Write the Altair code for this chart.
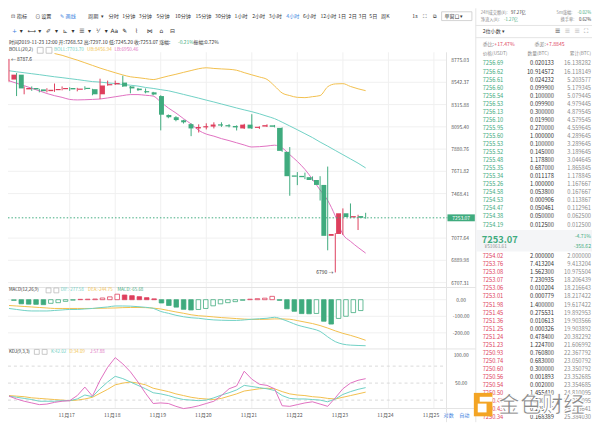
import altair as alt
import pandas as pd

# ---------------- data ----------------
times = pd.date_range("2019-11-15 16:00", periods=48, freq="4h").strftime("%Y-%m-%dT%H:%M:%S").tolist()

opens = [8571, 8622, 8470, 8484, 8470, 8452, 8462, 8472, 8484, 8466, 8486, 8472,
         8420, 8512, 8522, 8540, 8500, 8478, 8452, 8440, 8402, 8212, 8190, 8160,
         8122, 8080, 8090, 8098, 8120, 8112, 8104, 8080, 8117, 8085, 8098, 8110,
         8085, 7855, 7634, 7630, 7618, 7592, 7547, 7097, 7113, 7293, 7256, 7268.52]
highs = [8787.6, 8640, 8500, 8500, 8476, 8482, 8530, 8500, 8492, 8486, 8502, 8476,
         8580, 8560, 8560, 8611, 8505, 8485, 8480, 8445, 8410, 8218, 8200, 8165,
         8130, 8120, 8130, 8140, 8140, 8122, 8110, 8125, 8220, 8100, 8120, 8114,
         8090, 7900, 7665, 7660, 7625, 7627, 7716, 7120, 7336, 7380, 7280, 7297.10]
lows = [8550, 8402, 8420, 8455, 8440, 8440, 8445, 8460, 8455, 8450, 8465, 8410,
        8372, 8508, 8515, 8495, 8430, 8455, 8430, 8410, 8061, 8180, 8150, 8128,
        8005, 8040, 8070, 8080, 8095, 8090, 8060, 8075, 8075, 8075, 8094, 8090,
        7855, 7449, 7545, 7600, 7585, 7406, 6974, 6790, 7105, 7250, 7147, 7245.20]
closes = [8622, 8480, 8484, 8470, 8452, 8466, 8474, 8484, 8470, 8478, 8474, 8420,
          8510, 8524, 8536, 8500, 8480, 8462, 8440, 8418, 8215, 8190, 8162, 8140,
          8080, 8094, 8102, 8118, 8108, 8100, 8090, 8117, 8080, 8096, 8112, 8096,
          7864, 7627, 7622, 7618, 7592, 7547, 7097, 7113, 7293, 7260, 7268, 7253.07]

boll_mid = [8663, 8652, 8642, 8632, 8622, 8611, 8600, 8591, 8581, 8571, 8560, 8550,
            8545, 8537, 8530, 8520, 8513, 8504, 8490, 8480, 8467, 8456, 8438, 8419,
            8400, 8381, 8361, 8342, 8322, 8302, 8282, 8263, 8245, 8224, 8200, 8176,
            8141, 8104, 8067, 8029, 7991, 7948, 7909, 7868, 7828, 7788, 7748, 7703.70]
boll_up = [8928, 8918, 8905, 8894, 8881, 8863, 8845, 8826, 8800, 8775, 8747, 8719,
           8691, 8666, 8642, 8619, 8600, 8591, 8581, 8571, 8588, 8608, 8626, 8646,
           8665, 8684, 8694, 8687, 8682, 8678, 8668, 8643, 8620, 8598, 8573, 8505,
           8433, 8407, 8389, 8386, 8396, 8407, 8497, 8526, 8529, 8500, 8476, 8456.94]
boll_lo = [8559, 8533, 8508, 8481, 8455, 8428, 8406, 8389, 8368, 8363, 8365, 8368,
           8372, 8383, 8395, 8407, 8417, 8417, 8410, 8402, 8342, 8282, 8232, 8176,
           8123, 8061, 8025, 8005, 7981, 7962, 7941, 7920, 7901, 7904, 7910, 7918,
           7892, 7828, 7764, 7690, 7598, 7501, 7407, 7270, 7110, 7050, 6998, 6950.46]

macd_hist = [-5, -25, -27, -28, -30, -22, -18, -10, -3, 2, 3, 4,
             10, 17, 33, 28, 24, 18, 12, 5, -20, -35, -45, -58,
             -62, -59, -53, -37, -25, -18, -12, -4, 3, 6, 9, 20,
             -4, -55, -70, -84, -85, -83, -130, -147, -113, -100, -78, -65.68]
macd_dif = [-53, -59, -65, -68, -68, -68, -65, -62, -59, -59, -56, -53,
            -48, -44, -38, -38, -39, -42, -46, -52, -71, -82, -94, -103,
            -109, -112, -118, -122, -124, -125, -125, -122, -118, -115, -112, -106,
            -118, -135, -153, -165, -176, -191, -224, -253, -268, -274, -276, -277.58]
macd_dea = [-35, -38, -41, -44, -47, -50, -53, -53, -53, -53, -53, -53,
            -52, -51, -50, -48, -47, -47, -48, -51, -56, -65, -74, -82,
            -91, -97, -100, -104, -108, -111, -114, -117, -119, -119, -118, -116,
            -116, -118, -126, -135, -144, -156, -171, -188, -203, -215, -229, -244.75]

kdj_k = [27, 25, 23, 21, 18, 18, 18, 19, 19, 22, 29, 26, 40, 52, 62, 58, 52, 46, 40, 33,
         31, 28, 24, 21, 20, 19, 20, 24, 29, 33, 38, 46, 44, 42, 40, 37, 28, 23, 22, 22,
         21, 20, 17, 22, 30, 35, 39, 42.02]
kdj_d = [28, 27, 26, 24, 23, 22, 21, 20, 19, 20, 22, 25, 32, 39, 47, 50, 52, 50, 47, 41,
         38, 35, 31, 28, 25, 23, 22, 21, 23, 27, 31, 36, 38, 40, 41, 40, 35, 31, 29, 28,
         26, 25, 23, 22, 25, 28, 31, 34.09]
kdj_j = [27, 22, 18, 15, 12, 13, 16, 18, 19, 28, 43, 27, 55, 78, 95, 84, 70, 52, 32, 14,
         15, 14, 9, 5, 7, 10, 14, 18, 28, 40, 45, 71, 57, 48, 46, 40, 10, 9, 12, 15,
         17, 13, 9, 24, 40, 50, 55, 57.88]

price_ticks = [8775.03, 8542.37, 8315.88, 8095.40, 7880.76, 7671.82, 7468.41, 7077.64, 6889.98, 6707.31]
macd_ticks = [0, -100, -200]
macd_tick_labels = ["0.00", "-100.00", "-200.00"]
kdj_ticks = [100, 50]
kdj_tick_labels = ["100.00", "50.00"]
kdj_levels = [80, 50, 20]
day_dates = ["2019-11-%02dT00:00:00" % d for d in range(17, 26)]
day_labels = ["11月%d" % d for d in range(17, 26)]
last_price = 7253.07

ask_prices = ["7256.69", "7256.62", "7256.61", "7256.60", "7256.54", "7256.53", "7256.13",
              "7256.10", "7255.95", "7255.60", "7255.53", "7255.52", "7255.48", "7255.35",
              "7255.34", "7255.26", "7254.58", "7254.53", "7254.47", "7254.38", "7254.19"]
ask_amounts = ["0.020133", "10.914572", "0.024232", "0.099900", "0.100000", "0.099900", "0.300000",
               "0.019900", "0.270000", "1.000000", "0.100000", "0.145000", "1.178800", "0.687000",
               "0.011178", "1.000000", "0.053800", "0.000906", "0.050461", "0.050000", "0.012500"]
ask_totals = ["16.138282", "16.118149", "5.203577", "5.179345", "5.079445", "4.979445", "4.879545",
              "4.579545", "4.559645", "4.289645", "3.289645", "3.189645", "3.044645", "1.865845",
              "1.178845", "1.167667", "0.167667", "0.113867", "0.112961", "0.062500", "0.012500"]
bid_prices = ["7254.02", "7253.76", "7253.08", "7253.07", "7253.06", "7253.01", "7251.98",
              "7251.45", "7251.36", "7251.25", "7251.24", "7251.23", "7250.93", "7250.74",
              "7250.60", "7250.56", "7250.54", "7250.50", "7250.49", "7250.43", "7250.34"]
bid_amounts = ["2.000000", "7.413204", "1.562300", "7.230935", "0.010204", "0.000779", "1.400000",
               "0.275531", "0.010613", "0.000326", "0.478400", "1.224700", "0.760800", "0.683000",
               "0.300000", "0.001893", "0.002000", "1.455410", "0.200000", "0.205546", "0.168389"]
bid_totals = ["2.000000", "9.413204", "10.975504", "18.206439", "18.216643", "18.217422", "19.617422",
              "19.892953", "19.903566", "19.903892", "20.382292", "21.606992", "22.367792", "23.050792",
              "23.350792", "23.352685", "23.354685", "24.810095", "25.010095", "25.215641", "25.384030"]

# ---------------- layout helpers ----------------
# reference pixel -> chart pixel (the page adds an 8px margin)
def px(v): return round((v - 1.0) * 0.99, 2)
def py(v): return round((v - 2.5) * (415.0 / 419.5), 2)

GREEN = "#3fab7e"
RED = "#de3f5d"
TEAL = "#6fd0c4"
ORANGE = "#f2bf4c"
PINK = "#e070c0"
BLUE = "#3c7fe0"
GRID = "#f0f0f0"
SEP = "#e4e4e4"
TXT = "#333333"
SUB = "#8c8c8c"
FONT = "Noto Sans CJK SC"

xsc = alt.Scale(type="time",
                domain=[alt.DateTime(year=2019, month=11, date=15, hours=16),
                        alt.DateTime(year=2019, month=11, date=23, hours=12)],
                range=[px(2), px(367.2)], nice=False)
psc = alt.Scale(type="log", domain=[6707.31, 8775.03], range=[py(281), py(53)], nice=False)
msc = alt.Scale(domain=[-200, 0], range=[py(332.5), py(298.5)], nice=False, zero=False)
ksc = alt.Scale(domain=[0, 100], range=[py(413), py(355)], nice=False, zero=False)

def X():
    return alt.X("t:T", scale=xsc, axis=None)

def lab(text, x, y, color=TXT, size=5.2, align="left", weight="normal", font=FONT, **kw):
    return alt.Chart(pd.DataFrame({"s": [text]})).mark_text(
        align=align, baseline="middle", fontSize=size, font=font, fontWeight=weight,
        color=color, **kw).encode(x=alt.value(px(x)), y=alt.value(py(y)), text="s:N")

def hline(y, x1, x2, color=SEP, width=1, dash=None):
    kw = dict(color=color, strokeWidth=width)
    if dash:
        kw["strokeDash"] = dash
    return alt.Chart(pd.DataFrame({"a": [0]})).mark_rule(**kw).encode(
        x=alt.value(px(x1)), x2=alt.value(px(x2)), y=alt.value(py(y)))

def vline(x, y1, y2, color=SEP, width=1):
    return alt.Chart(pd.DataFrame({"a": [0]})).mark_rule(color=color, strokeWidth=width).encode(
        x=alt.value(px(x)), y=alt.value(py(y1)), y2=alt.value(py(y2)))

def box(x1, y1, x2, y2, fill, stroke=None):
    kw = dict(fill=fill)
    if stroke:
        kw.update(stroke=stroke, strokeWidth=0.8)
    return alt.Chart(pd.DataFrame({"a": [0]})).mark_rect(**kw).encode(
        x=alt.value(px(x1)), x2=alt.value(px(x2)), y=alt.value(py(y1)), y2=alt.value(py(y2)))

# ---------------- tables ----------------
cd = pd.DataFrame({"t": times, "o": opens, "h": highs, "l": lows, "c": closes,
                   "mid": boll_mid, "up": boll_up, "lo": boll_lo,
                   "hist": macd_hist, "dif": macd_dif, "dea": macd_dea,
                   "k": kdj_k, "d": kdj_d, "j": kdj_j})
cd["dir"] = ["up" if c >= o else "dn" for o, c in zip(opens, closes)]
cd["zero"] = 0
solid = [False] + [macd_hist[i] < macd_hist[i - 1] for i in range(1, len(macd_hist))]
cd["sign"] = ["pos" if v > 0 else "neg" for v in macd_hist]
cd["fk"] = [s + ("_f" if f else "_h") for s, f in zip(cd["sign"], solid)]

dir_color = alt.Scale(domain=["up", "dn"], range=[RED, GREEN])

layers = []

# grid lines
layers.append(alt.Chart(pd.DataFrame({"p": price_ticks})).mark_rule(color=GRID).encode(
    y=alt.Y("p:Q", scale=psc, axis=None), x=alt.value(0), x2=alt.value(px(450))))
layers.append(alt.Chart(pd.DataFrame({"t": day_dates})).mark_rule(color=GRID).encode(
    x=X(), y=alt.value(py(45)), y2=alt.value(py(410))))
layers.append(alt.Chart(pd.DataFrame({"m": macd_ticks})).mark_rule(color=GRID).encode(
    y=alt.Y("m:Q", scale=msc, axis=None), x=alt.value(0), x2=alt.value(px(450))))
layers.append(alt.Chart(pd.DataFrame({"v": kdj_levels})).mark_rule(color="#d9d9d9", strokeDash=[3, 3]).encode(
    y=alt.Y("v:Q", scale=ksc, axis=None), x=alt.value(0), x2=alt.value(px(450))))

# panel separators
layers += [hline(286, 0, 480), hline(349, 0, 480), hline(410, 0, 480),
           vline(450, 45, 424), vline(480, 0, 424), hline(17.5, 480, 600), hline(30, 480, 600)]

# Bollinger bands
layers.append(alt.Chart(cd).mark_line(color=TEAL, strokeWidth=1, interpolate="monotone").encode(
    x=X(), y=alt.Y("mid:Q", scale=psc, axis=None)))
layers.append(alt.Chart(cd).transform_filter("datum.up <= 8858").mark_line(
    color=ORANGE, strokeWidth=1, interpolate="monotone").encode(
    x=X(), y=alt.Y("up:Q", scale=psc, axis=None)))
layers.append(alt.Chart(cd).mark_line(color=PINK, strokeWidth=1, interpolate="monotone").encode(
    x=X(), y=alt.Y("lo:Q", scale=psc, axis=None)))

# candles
layers.append(alt.Chart(cd).mark_rule(strokeWidth=1).encode(
    x=X(), y=alt.Y("l:Q", scale=psc, axis=None), y2="h:Q",
    color=alt.Color("dir:N", scale=dir_color, legend=None)))
layers.append(alt.Chart(cd).mark_bar(size=5).encode(
    x=X(), y=alt.Y("o:Q", scale=psc, axis=None), y2="c:Q",
    color=alt.Color("dir:N", scale=dir_color, legend=None)))

# last price line and tag
lp = pd.DataFrame({"p": [last_price], "s": ["%.2f" % last_price]})
layers.append(alt.Chart(lp).mark_rule(color=GREEN, strokeDash=[1.5, 2]).encode(
    y=alt.Y("p:Q", scale=psc, axis=None), x=alt.value(0), x2=alt.value(px(451))))
layers.append(alt.Chart(lp).mark_rule(color=GREEN, strokeWidth=7, strokeCap="butt").encode(
    y=alt.Y("p:Q", scale=psc, axis=None), x=alt.value(px(451)), x2=alt.value(px(479))))
layers.append(alt.Chart(lp).mark_text(color="white", fontSize=5, font=FONT, align="center", baseline="middle").encode(
    y=alt.Y("p:Q", scale=psc, axis=None), x=alt.value(px(465)), text="s:N"))

# high / low annotations
i_hi = highs.index(max(highs))
i_lo = lows.index(min(lows))
ann_hi = pd.DataFrame({"t": [times[i_hi]], "p": [max(highs)], "s": ["← %g" % max(highs)]})
ann_lo = pd.DataFrame({"t": [times[i_lo]], "p": [min(lows)], "s": ["%g →" % min(lows)]})
layers.append(alt.Chart(ann_hi).mark_text(align="left", baseline="middle", dx=2, fontSize=5, font=FONT, color=TXT).encode(
    x=X(), y=alt.Y("p:Q", scale=psc, axis=None), text="s:N"))
layers.append(alt.Chart(ann_lo).mark_text(align="right", baseline="middle", dx=-2, fontSize=5, font=FONT, color=TXT).encode(
    x=X(), y=alt.Y("p:Q", scale=psc, axis=None), text="s:N"))

# MACD
fill_scale = alt.Scale(domain=["pos_f", "pos_h", "neg_f", "neg_h"], range=[RED, "#ffffff", GREEN, "#ffffff"])
stroke_scale = alt.Scale(domain=["pos", "neg"], range=[RED, GREEN])
layers.append(alt.Chart(cd).mark_bar(size=4.6, strokeWidth=0.8).encode(
    x=X(), y=alt.Y("hist:Q", scale=msc, axis=None), y2="zero:Q",
    fill=alt.Fill("fk:N", scale=fill_scale, legend=None),
    stroke=alt.Stroke("sign:N", scale=stroke_scale, legend=None)))
layers.append(alt.Chart(cd).mark_line(color=ORANGE, strokeWidth=1, interpolate="monotone").encode(
    x=X(), y=alt.Y("dea:Q", scale=msc, axis=None)))
layers.append(alt.Chart(cd).mark_line(color=TEAL, strokeWidth=1, interpolate="monotone").encode(
    x=X(), y=alt.Y("dif:Q", scale=msc, axis=None)))

# KDJ
for fld, col in [("d", ORANGE), ("k", TEAL), ("j", PINK)]:
    layers.append(alt.Chart(cd).mark_line(color=col, strokeWidth=1).encode(
        x=X(), y=alt.Y(fld + ":Q", scale=ksc, axis=None)))

# axis labels
layers.append(alt.Chart(pd.DataFrame({"p": price_ticks})).mark_text(
    fontSize=5, font=FONT, color="#555", align="center", baseline="middle").encode(
    y=alt.Y("p:Q", scale=psc, axis=None), x=alt.value(px(464)), text=alt.Text("p:Q", format=".2f")))
layers.append(alt.Chart(pd.DataFrame({"m": macd_ticks, "s": macd_tick_labels})).mark_text(
    fontSize=5, font=FONT, color="#555", align="center", baseline="middle").encode(
    y=alt.Y("m:Q", scale=msc, axis=None), x=alt.value(px(465)), text="s:N"))
layers.append(alt.Chart(pd.DataFrame({"v": kdj_ticks, "s": kdj_tick_labels})).mark_text(
    fontSize=5, font=FONT, color="#555", align="center", baseline="middle").encode(
    y=alt.Y("v:Q", scale=ksc, axis=None), x=alt.value(px(465)), text="s:N"))
layers.append(alt.Chart(pd.DataFrame({"t": day_dates, "s": day_labels})).mark_text(
    fontSize=5.2, font=FONT, color="#555", align="center", baseline="middle", dx=-3).encode(
    x=X(), y=alt.value(py(417)), text="s:N"))
layers += [lab("对数", 447, 417, BLUE, 5.2), lab("自动", 463, 417, BLUE, 5.2)]

# panel headers
layers += [
    lab("时间2019-11-23 12:00 开:7268.52 高:7297.10 低:7245.20 收:7253.07 涨幅:", 2, 34, TXT, 5.0),
    lab("-0.21%", 175, 34, GREEN, 5.0), lab("振幅:0.72%", 191, 34, TXT, 5.0),
    lab("BOLL(20,2)", 2, 43, TXT, 4.8), box(31, 40, 37, 46, "white", "#bbb"), box(40, 40, 46, 46, "white", "#bbb"),
    lab("BOLL:7703.70", 48, 43, TEAL, 4.8), lab("UB:8456.94", 82, 43, ORANGE, 4.8), lab("LB:6950.46", 110, 43, PINK, 4.8),
    lab("MACD(12,26,9)", 2, 289, TXT, 4.5), box(40, 286.5, 45, 291.5, "white", "#bbb"), box(48, 286.5, 53, 291.5, "white", "#bbb"),
    lab("DIF:-277.58", 55, 289, TEAL, 4.5), lab("DEA:-244.75", 83, 289, ORANGE, 4.5), lab("MACD:-65.68", 113, 289, GREEN, 4.5),
    lab("KDJ(9,3,3)", 2, 352, TXT, 4.5), box(28, 349.5, 33, 354.5, "white", "#bbb"), box(36, 349.5, 41, 354.5, "white", "#bbb"),
    lab("K:42.02", 45, 352, TEAL, 4.5), lab("D:34.09", 64, 352, ORANGE, 4.5), lab("J:57.88", 85, 352, PINK, 4.5),
]

# toolbar row 1
tb1 = [("⊡", 4, TXT), ("指标", 10, TXT), ("⊙", 29, TXT), ("设置", 35, TXT), ("✎", 54, BLUE), ("画线", 60, BLUE),
       ("周期", 83, TXT), ("▾", 96, TXT), ("分时", 104, TXT), ("1分钟", 118, TXT), ("3分钟", 135, TXT),
       ("5分钟", 153, TXT), ("10分钟", 172, TXT), ("15分钟", 193, TXT), ("30分钟", 213, TXT), ("1小时", 233, TXT),
       ("2小时", 251, TXT), ("3小时", 268, TXT), ("4小时", 286, BLUE), ("6小时", 303, TXT), ("12小时", 321, TXT),
       ("1日", 339, TXT), ("2日", 350, TXT), ("3日", 360, TXT), ("5日", 371, TXT), ("周K", 383, TXT),
       ("1s", 415, TXT), ("⛶", 426, TXT), ("⧉", 436, TXT)]
layers += [lab(s, x, 8, c, 5.2) for s, x, c in tb1]
layers += [box(445, 3.5, 476, 12.5, "white", "#c8c8c8"), lab("单窗口 ▾", 448, 8, TXT, 5.0)]

# toolbar row 2 (drawing tools)
tb2 = [("+", 5, BLUE), ("▾", 13, TXT), ("⟷", 21, TXT), ("▾", 32, TXT), ("✐", 40, TXT), ("▾", 49, TXT),
       ("⊾", 57, TXT), ("▾", 66, TXT), ("☰", 74, TXT), ("▾", 83, TXT), ("⅟", 91, TXT), ("▾", 100, TXT),
       ("Aa", 106, TXT), ("✎", 118, TXT), ("⌇", 131, TXT), ("⋈", 143, TXT), ("⌂", 156, TXT), ("⊟", 167, TXT)]
layers += [lab(s, x, 23, c, 6, font="DejaVu Sans") for s, x, c in tb2]

# right panel header
layers += [
    lab("24H成交额(¥): ", 485, 5, SUB, 4.3), lab("97.27亿", 516, 5, TXT, 4.3),
    lab("5m涨幅:", 579, 5, SUB, 4.3, align="right"), lab("-0.02%", 598, 5, GREEN, 4.3, align="right"),
    lab("净流入(¥): ", 485, 12, SUB, 4.3), lab("-1.27亿", 509, 12, GREEN, 4.3),
    lab("换手率:", 581, 12, SUB, 4.3, align="right"), lab("0.62%", 598, 12, TXT, 4.3, align="right"),
    lab("2位小数 ▾", 487, 23, TXT, 5.2),
    lab("☰", 561, 23, "#444", 6, font="DejaVu Sans"), lab("☰", 571, 23, "#bbb", 6, font="DejaVu Sans"),
    lab("☰", 581, 23, "#bbb", 6, font="DejaVu Sans"), lab("⛶", 591, 23, "#777", 6, font="DejaVu Sans"),
    lab("委比:", 487, 37, SUB, 5.2), lab("+17.47%", 499, 37, RED, 5.2),
    lab("委差:", 540, 37, SUB, 5.2), lab("+7.8845", 552, 37, RED, 5.2),
    lab("价格(USDT)", 487, 47, SUB, 4.8), lab("数量(BTC)", 533, 47, SUB, 4.8),
    lab("累计(BTC)", 598, 47, SUB, 4.8, align="right"),
]

# order book
def tail_zeros(s):
    if float(s) == int(float(s)):
        return ""
    return s[len(s.rstrip("0")):]

def book(prices, amounts, totals, pcolor, y_first, y_last):
    df = pd.DataFrame({"row": list(range(len(prices))), "p": prices, "a": amounts, "tot": totals,
                       "z": [tail_zeros(a) for a in amounts]})
    rs = alt.Scale(domain=[0, len(prices) - 1], range=[py(y_first), py(y_last)], nice=False, zero=False)
    Y = alt.Y("row:Q", scale=rs, axis=None)
    base = alt.Chart(df)
    opts = dict(fontSize=5.8, font=FONT, baseline="middle")
    return [
        base.mark_text(align="left", color=pcolor, **opts).encode(y=Y, x=alt.value(px(487)), text="p:N"),
        base.mark_text(align="right", color=TXT, **opts).encode(y=Y, x=alt.value(px(560)), text="a:N"),
        base.mark_text(align="right", color="#c4c4c4", **opts).encode(y=Y, x=alt.value(px(560)), text="z:N"),
        base.mark_text(align="right", color=SUB, **opts).encode(y=Y, x=alt.value(px(598)), text="tot:N"),
    ]

layers += book(ask_prices, ask_amounts, ask_totals, GREEN, 56.5, 221.5)
layers += [box(480, 227, 600, 249, "#f4f5f7"),
           lab("7253.07", 486, 237, GREEN, 9.5, weight="bold"),
           lab("-4.71%", 598, 233, GREEN, 5.2, align="right"),
           lab("¥51061.61", 489, 245, SUB, 4.8),
           lab("-358.62", 598, 244, GREEN, 5.2, align="right")]
layers += book(bid_prices, bid_amounts, bid_totals, RED, 254, 419)

# watermark
layers += [box(478, 394, 497, 418, "#f3a424"), box(482, 405, 491, 414, "white"), box(484, 398, 497, 403, "white"),
           lab("金色财经", 503, 407, "#8a8a8a", 22, weight="bold", stroke="white", strokeWidth=1.2)]

chart = alt.layer(*layers).resolve_scale(
    x="independent", y="independent", color="independent", fill="independent", stroke="independent"
).properties(width=592, height=416, padding=0, autosize=alt.AutoSizeParams(type="none")
).configure_view(strokeWidth=0)

chart.save("out.html", embed_options={"renderer": "svg", "actions": False})
